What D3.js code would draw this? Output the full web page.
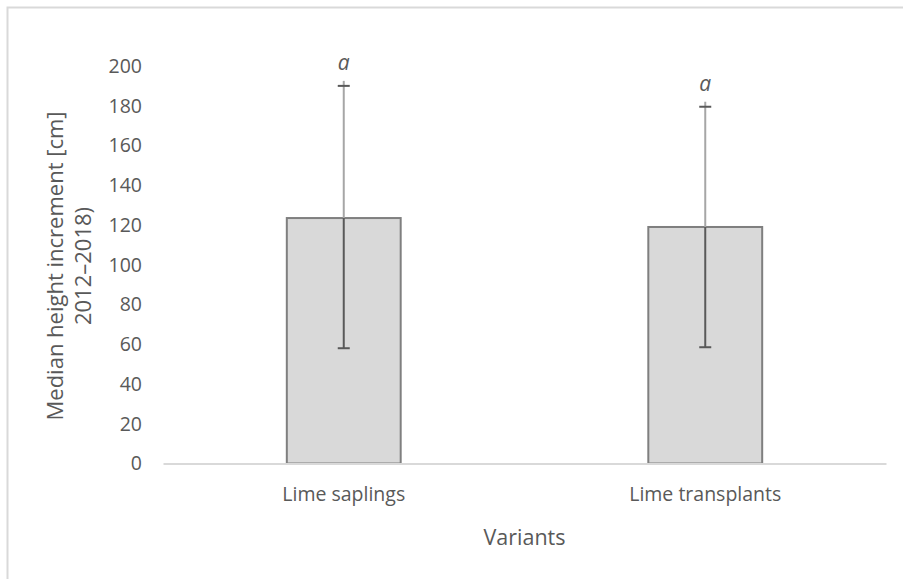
<!DOCTYPE html>
<html>
<head>
<meta charset="utf-8">
<script src="https://cdn.jsdelivr.net/npm/d3@7"></script>
<style>
  body { margin: 0; background: #fff; overflow: hidden; }
  svg text { font-family: "Open Sans", sans-serif; fill: #595959; }
</style>
</head>
<body>
<div id="chart"></div>
<script>
// data
var variants = ["Lime saplings", "Lime transplants"];
var medians = [123.5, 119];
var errLow = [58, 58.5];
var errHigh = [190, 179.5];
var letters = ["a", "a"];
var yTicks = [0, 20, 40, 60, 80, 100, 120, 140, 160, 180, 200];

var W = 903, H = 579;
var margin = {top: 66, right: 17, bottom: 115.5, left: 163},
    width = W - margin.left - margin.right,
    height = H - margin.top - margin.bottom;

var svg = d3.select("#chart")
  .append("svg")
    .attr("width", W)
    .attr("height", H)
    .style("display", "block");

// outer frame: only top and left edges show, the rest runs off the picture
svg.append("path")
  .attr("d", "M7.5," + H + "V7.5H" + W)
  .attr("fill", "none")
  .attr("stroke", "#d9d9d9")
  .attr("stroke-width", 2);

var g = svg.append("g")
  .attr("transform", "translate(" + margin.left + "," + margin.top + ")");

var x = d3.scaleBand()
  .domain(variants)
  .range([0, width])
  .paddingInner(0.685)
  .paddingOuter(0.3425);

var y = d3.scaleLinear()
  .domain([0, 200])
  .range([height, 0]);

// y axis, labels only
var yAxis = g.append("g")
  .call(d3.axisLeft(y).tickValues(yTicks).tickSize(0).tickPadding(21));
yAxis.select(".domain").remove();
yAxis.selectAll("text")
  .attr("font-size", "19.5px")
  .attr("fill", "#595959")
  .style("font-family", "'Open Sans', sans-serif");

// bars
g.selectAll(".bar")
  .data(variants)
  .enter().append("rect")
    .attr("class", "bar")
    .attr("x", function(d) { return x(d); })
    .attr("y", function(d, i) { return y(medians[i]); })
    .attr("width", x.bandwidth())
    .attr("height", function(d, i) { return height - y(medians[i]); })
    .attr("fill", "#d9d9d9")
    .attr("stroke", "#7f7f7f")
    .attr("stroke-width", 2);

// x axis line
var xAxis = g.append("g")
  .attr("transform", "translate(0," + height + ")")
  .call(d3.axisBottom(x).tickSize(0).tickPadding(24));
xAxis.select(".domain")
  .attr("stroke", "#d9d9d9")
  .attr("stroke-width", 2);
xAxis.selectAll("text")
  .attr("font-size", "19.5px")
  .attr("fill", "#595959")
  .style("font-family", "'Open Sans', sans-serif");

// error bars
var cx = function(d) { return x(d) + x.bandwidth() / 2; };
var eb = g.selectAll(".err")
  .data(variants)
  .enter().append("g")
    .attr("class", "err");

// upper part, lighter above the bar
eb.append("line")
  .attr("x1", cx).attr("x2", cx)
  .attr("y1", function(d, i) { return y(medians[i]); })
  .attr("y2", function(d, i) { return y(errHigh[i]) - 5; })
  .attr("stroke", "#a6a6a6")
  .attr("stroke-width", 2);
// lower part inside the bar
eb.append("line")
  .attr("x1", cx).attr("x2", cx)
  .attr("y1", function(d, i) { return y(medians[i]); })
  .attr("y2", function(d, i) { return y(errLow[i]); })
  .attr("stroke", "#595959")
  .attr("stroke-width", 2);
// caps
eb.append("line")
  .attr("x1", function(d) { return cx(d) - 6; })
  .attr("x2", function(d) { return cx(d) + 6; })
  .attr("y1", function(d, i) { return y(errHigh[i]); })
  .attr("y2", function(d, i) { return y(errHigh[i]); })
  .attr("stroke", "#595959")
  .attr("stroke-width", 2);
eb.append("line")
  .attr("x1", function(d) { return cx(d) - 6; })
  .attr("x2", function(d) { return cx(d) + 6; })
  .attr("y1", function(d, i) { return y(errLow[i]); })
  .attr("y2", function(d, i) { return y(errLow[i]); })
  .attr("stroke", "#595959")
  .attr("stroke-width", 2);

// significance letters
g.selectAll(".letter")
  .data(variants)
  .enter().append("text")
    .attr("class", "letter")
    .attr("x", cx)
    .attr("y", function(d, i) { return y(errHigh[i]) - 16; })
    .attr("text-anchor", "middle")
    .attr("font-size", "21px")
    .attr("font-style", "italic")
    .attr("fill", "#404040")
    .text(function(d, i) { return letters[i]; });

// x title
g.append("text")
  .attr("x", width / 2)
  .attr("y", height + 81)
  .attr("text-anchor", "middle")
  .attr("font-size", "21.5px")
  .text("Variants");

// y title, two lines
var yt = svg.append("text")
  .attr("transform", "translate(63,266) rotate(-90)")
  .attr("text-anchor", "middle")
  .attr("font-size", "22px");
yt.append("tspan").attr("x", 0).attr("dy", 0).text("Median height increment [cm]");
yt.append("tspan").attr("x", 0).attr("dy", 28).text("2012\u20132018)");
</script>
</body>
</html>
